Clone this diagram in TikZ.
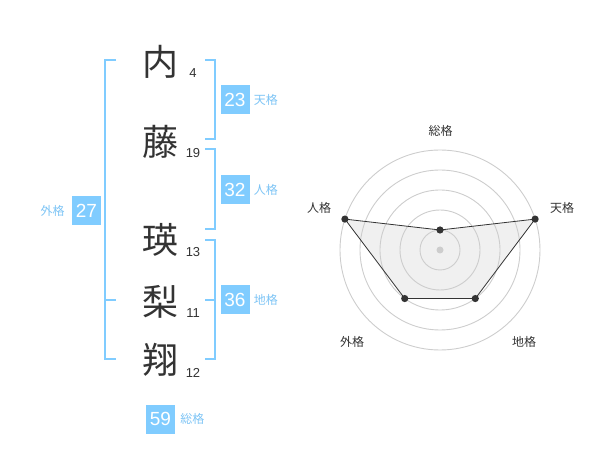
\documentclass[tikz,border=0pt]{standalone}
\usepackage{fontspec}
\setmainfont{Liberation Sans}
\newfontfamily\jpfont{Noto Sans CJK JP}
\usetikzlibrary{positioning}
\definecolor{kakublue}{RGB}{128,204,255}
\definecolor{kakutext}{RGB}{125,196,245}
\definecolor{inkgray}{RGB}{51,51,51}
\definecolor{ringgray}{RGB}{205,205,205}
\definecolor{areagray}{RGB}{240,240,240}

\tikzset{
	kanji/.style={text=inkgray, font=\jpfont\fontsize{36}{36}\selectfont, inner sep=0pt},
	strokes/.style={text=inkgray, font=\fontsize{13}{13}\selectfont, inner sep=0pt},
	kakubox/.style={fill=kakublue, text=white, minimum size=29pt, inner sep=0pt, font=\fontsize{19}{19}\selectfont},
	kakuname/.style={text=kakutext, font=\jpfont\fontsize{12}{12}\selectfont, inner sep=0pt},
	bracket/.style={kakublue, line width=2pt},
	axisname/.style={text=inkgray, font=\jpfont\fontsize{12}{12}\selectfont, inner sep=0pt}
}

\begin{document}
\begin{tikzpicture}[x=1pt, y=-1pt]
	\useasboundingbox (0,0) rectangle (600,470);
	
	% name and stroke counts
	\node[kanji] (k1) at (160,62) {内};
	\node[kanji] (k2) at (160,142) {藤};
	\node[kanji] (k3) at (160,240) {瑛};
	\node[kanji] (k4) at (160,302) {梨};
	\node[kanji] (k5) at (160,360) {翔};
	\node[strokes] (s1) at (193,73) {4};
	\node[strokes] (s2) at (193,153) {19};
	\node[strokes] (s3) at (193,252) {13};
	\node[strokes] (s4) at (193,313) {11};
	\node[strokes] (s5) at (193,373) {12};
	
	% brackets
	\draw[bracket] (116,60) -- ++(-11,0) -- ++(0,299.5) -- ++(11,0);
	\draw[bracket] (105,300) -- ++(11,0);
	\draw[bracket] (205,60) -- ++(9.5,0) -- ++(0,79.5) -- ++(-9.5,0);
	\draw[bracket] (205,149.5) -- ++(9.5,0) -- ++(0,80) -- ++(-9.5,0);
	\draw[bracket] (205,240) -- ++(9.5,0) -- ++(0,119.5) -- ++(-9.5,0);
	\draw[bracket] (205,300) -- ++(9.5,0);
	
	\node[kakubox] (ten) at (235,100) {23};
	\node[kakuname, right=4pt of ten] (tenname) {天格};
	\node[kakubox] (jin) at (235,190) {32};
	\node[kakuname, right=4pt of jin] (jinname) {人格};
	\node[kakubox] (chi) at (235,300) {36};
	\node[kakuname, right=4pt of chi] (chiname) {地格};
	\node[kakubox] (gai) at (86.5,210.5) {27};
	\node[kakuname, left=7pt of gai] (gainame) {外格};
	\node[kakubox] (so) at (160.5,419) {59};
	\node[kakuname, right=5pt of so] (soname) {総格};
	
	% radar chart
	\begin{scope}[shift={(440,250)}, yscale=-1]
		\coordinate (v1) at (90:20);
		\coordinate (v2) at (18:100);
		\coordinate (v3) at (-54:60);
		\coordinate (v4) at (234:60);
		\coordinate (v5) at (162:100);
		\fill[areagray] (v1) -- (v2) -- (v3) -- (v4) -- (v5) -- cycle;
		\foreach \r in {20,40,...,100}
			\draw[ringgray, line width=0.9pt] (0,0) circle (\r pt);
		\fill[ringgray] (0,0) circle (3.5pt);
		\draw[inkgray, line width=0.8pt] (v1) -- (v2) -- (v3) -- (v4) -- (v5) -- cycle;
		\foreach \v in {v1,v2,v3,v4,v5}
			\fill[inkgray] (\v) circle (3.6pt);
		\node[axisname] (a1) at (0.5,119.5) {総格};
		\node[axisname] (a2) at (122,42) {天格};
		\node[axisname] (a3) at (-121,42) {人格};
		\node[axisname] (a4) at (-88,-92) {外格};
		\node[axisname] (a5) at (84,-92) {地格};
	\end{scope}
\end{tikzpicture}
\end{document}
